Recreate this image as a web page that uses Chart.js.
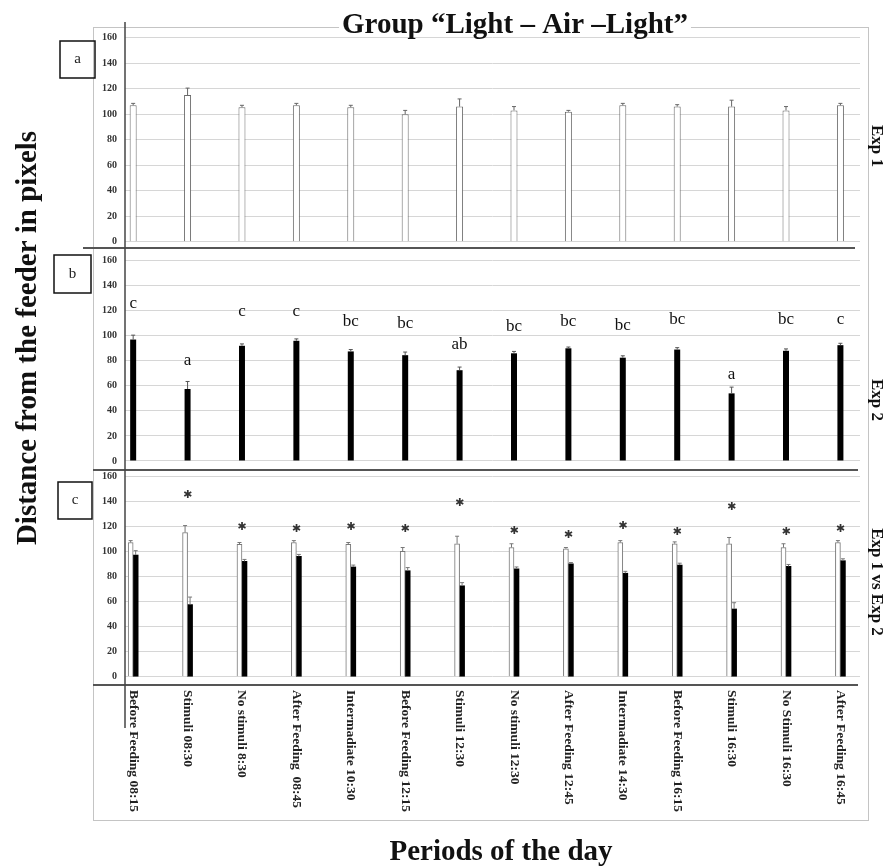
<!DOCTYPE html>
<html>
<head>
<meta charset="utf-8">
<script src="https://cdn.jsdelivr.net/npm/chart.js@4.4.1/dist/chart.umd.min.js"></script>
<style>
  html, body { margin: 0; padding: 0; background: #fff; }
  #wrap { width: 889px; height: 866px; }
</style>
</head>
<body>
<div id="wrap"><canvas id="chart" width="889" height="866"></canvas></div>
<script>
// Periodes de la journee (axe x)
const periods = [
  'Before Feeding 08:15', 'Stimuli 08:30', 'No stimuli 8:30', 'After Feeding  08:45',
  'Intermadiate 10:30', 'Before Feeding 12:15', 'Stimuli 12:30', 'No stimuli 12:30',
  'After Feeding 12:45', 'Intermadiate 14:30', 'Before Feeding 16:15', 'Stimuli 16:30',
  'No Stimuli 16:30', 'After Feeding 16:45'
];
// Exp 1 (barres blanches) et Exp 2 (barres noires), avec erreurs
const exp1 = [107, 115, 105.5, 107, 105.5, 100, 106, 103, 102, 107, 106, 106, 103, 107];
const exp1Err = [1.5, 5.5, 1.5, 1.5, 1.5, 3, 6, 3, 1, 1.5, 1.5, 5, 3, 1.5];
const exp2 = [97, 57.5, 92, 96, 87.5, 84.5, 72.5, 86, 90, 82.5, 89, 54, 88, 92.5];
const exp2Err = [3.5, 6, 1.5, 1.5, 1.5, 2.5, 2.5, 1.5, 1, 1.5, 1.5, 5, 1.5, 1.5];
// Lettres de significativite (panneau b) et leur hauteur
const letters = ['c', 'a', 'c', 'c', 'bc', 'bc', 'ab', 'bc', 'bc', 'bc', 'bc', 'a', 'bc', 'c'];
const letterLevel = [126, 80, 119, 119, 111, 110, 93, 107, 111, 108, 113, 69, 113, 113];
// Marques Exp 1 vs Exp 2 (panneau c)
const sigLevel = [null, 145, 119, 118, 119, 118, 138, 116, 113, 120, 115, 135, 115, 118];
// Graduations de l'axe y
const yTicks = [0, 20, 40, 60, 80, 100, 120, 140, 160];

const SERIF = '"Liberation Serif", "Times New Roman", serif';

const pts = arr => arr.map((v, i) => ({ x: i, y: v }));

// Axe y commun a chaque panneau
function panelAxis(min, max, weight, order) {
  return {
    type: 'linear',
    position: 'left',
    stack: 'panels',
    stackWeight: weight,
    weight: order,
    min: min,
    max: max,
    afterBuildTicks: s => { s.ticks = yTicks.map(v => ({ value: v })); },
    afterFit: s => { s.width = 32; },
    grid: { color: '#d6d6d6', drawTicks: false, lineWidth: 1 },
    border: { display: false },
    ticks: {
      autoSkip: false,
      font: { family: SERIF, size: 10, weight: 'bold' }, color: '#333', padding: 8
    }
  };
}

// Barres d'erreur
const errorBars = {
  id: 'errorBars',
  afterDatasetsDraw(chart) {
    const ctx = chart.ctx;
    chart.data.datasets.forEach((ds, di) => {
      const meta = chart.getDatasetMeta(di);
      const ys = chart.scales[ds.yAxisID];
      ctx.save();
      ctx.strokeStyle = ds.errColor;
      ctx.lineWidth = 1;
      meta.data.forEach((el, i) => {
        const top = ys.getPixelForValue(ds.values[i] + ds.errors[i]);
        ctx.beginPath();
        ctx.moveTo(el.x, el.y);
        ctx.lineTo(el.x, top);
        ctx.moveTo(el.x - 2, top);
        ctx.lineTo(el.x + 2, top);
        ctx.stroke();
      });
      ctx.restore();
    });
  }
};

// Textes, cadres et lignes de separation
const decorations = {
  id: 'decorations',
  beforeDraw(chart) {
    const ctx = chart.ctx;
    ctx.save();
    ctx.fillStyle = '#fff';
    ctx.fillRect(0, 0, chart.width, chart.height);
    ctx.strokeStyle = '#c4c4c4';
    ctx.lineWidth = 1;
    ctx.strokeRect(93.5, 27.5, 775, 793);
    ctx.restore();
  },
  afterDraw(chart) {
    const ctx = chart.ctx;
    const x = chart.scales.x;
    const yA = chart.scales.yA, yB = chart.scales.yB, yC = chart.scales.yC;
    ctx.save();

    // separateurs des panneaux
    ctx.strokeStyle = '#555';
    ctx.lineWidth = 2;
    [[yA.bottom, 83, 855], [yB.bottom, 93, 858], [yC.bottom, 93, 858]].forEach(([y, x0, x1]) => {
      ctx.beginPath(); ctx.moveTo(x0, y); ctx.lineTo(x1, y); ctx.stroke();
    });
    // axe vertical
    ctx.lineWidth = 1.5;
    ctx.strokeStyle = '#444';
    ctx.beginPath(); ctx.moveTo(125, 22); ctx.lineTo(125, 728); ctx.stroke();

    // lettres du panneau b
    ctx.fillStyle = '#111';
    ctx.font = '17px ' + SERIF;
    ctx.textAlign = 'center';
    ctx.textBaseline = 'middle';
    letters.forEach((t, i) => {
      ctx.fillText(t, x.getPixelForValue(i), yB.getPixelForValue(letterLevel[i]));
    });

    // marques du panneau c
    ctx.font = '11px "DejaVu Sans"';
    ctx.fillStyle = '#333';
    sigLevel.forEach((v, i) => {
      if (v === null) return;
      ctx.fillText('\u2731', x.getPixelForValue(i), yC.getPixelForValue(v));
    });

    // etiquettes de categories (verticales)
    ctx.font = 'bold 13.5px ' + SERIF;
    ctx.fillStyle = '#222';
    ctx.textAlign = 'left';
    periods.forEach((p, i) => {
      ctx.save();
      ctx.translate(x.getPixelForValue(i), 690);
      ctx.rotate(Math.PI / 2);
      ctx.fillText(p, 0, 0);
      ctx.restore();
    });

    // boites a, b, c
    ctx.lineWidth = 1.5;
    ctx.strokeStyle = '#111';
    ctx.font = '15px ' + SERIF;
    ctx.textAlign = 'center';
    [['a', 60, 41, 35, 37], ['b', 54, 255, 37, 38], ['c', 58, 482, 34, 37]].forEach(([t, bx, by, bw, bh]) => {
      ctx.strokeRect(bx, by, bw, bh);
      ctx.fillText(t, bx + bw / 2, by + bh / 2);
    });

    // titre
    ctx.font = 'bold 29px ' + SERIF;
    const title = 'Group \u201cLight \u2013 Air \u2013Light\u201d';
    const tw = ctx.measureText(title).width;
    ctx.fillStyle = '#fff';
    ctx.fillRect(515 - tw / 2 - 3, 8, tw + 6, 28);
    ctx.fillStyle = '#111';
    ctx.textBaseline = 'alphabetic';
    ctx.fillText(title, 515, 33);

    // titre axe x
    ctx.fillText('Periods of the day', 501, 860);

    // titre axe y
    ctx.save();
    ctx.translate(36, 338);
    ctx.rotate(-Math.PI / 2);
    ctx.fillText('Distance from the feeder in pixels', 0, 0);
    ctx.restore();

    // etiquettes a droite
    ctx.font = 'bold 17px ' + SERIF;
    ctx.textBaseline = 'middle';
    [['Exp 1', 146], ['Exp 2', 400], ['Exp 1 vs Exp 2', 582]].forEach(([t, y]) => {
      ctx.save();
      ctx.translate(876, y);
      ctx.rotate(Math.PI / 2);
      ctx.fillText(t, 0, 0);
      ctx.restore();
    });
    ctx.restore();
  }
};

const ctx1 = document.getElementById('chart').getContext('2d');
const distanceChart = new Chart(ctx1, {
  type: 'bar',
  data: {
    datasets: [
      {
        label: 'Exp 1', yAxisID: 'yA', data: pts(exp1), values: exp1, errors: exp1Err,
        grouped: false, maxBarThickness: 7,
        backgroundColor: '#fff', borderColor: '#6a6a6a', borderWidth: 1, errColor: '#666'
      },
      {
        label: 'Exp 2', yAxisID: 'yB', data: pts(exp2), values: exp2, errors: exp2Err,
        grouped: false, maxBarThickness: 6,
        backgroundColor: '#000', borderWidth: 0, errColor: '#555'
      },
      {
        label: 'Exp 1 (c)', yAxisID: 'yC', data: pts(exp1), values: exp1, errors: exp1Err,
        barThickness: 5,
        backgroundColor: '#fff', borderColor: '#777', borderWidth: 1, errColor: '#777'
      },
      {
        label: 'Exp 2 (c)', yAxisID: 'yC', data: pts(exp2), values: exp2, errors: exp2Err,
        barThickness: 5,
        backgroundColor: '#000', borderWidth: 0, errColor: '#777'
      }
    ]
  },
  options: {
    responsive: false,
    animation: false,
    layout: { padding: { left: 93, top: 27, right: 29, bottom: 181 } },
    plugins: { legend: { display: false }, tooltip: { enabled: false } },
    scales: {
      x: { type: 'linear', min: -0.15, max: 13.36, offset: false, display: false },
      yA: panelAxis(-4.9, 168.4, 221, 3),
      yB: panelAxis(-7.2, 170.1, 222, 2),
      yC: panelAxis(-6.6, 164.8, 215, 1)
    }
  },
  plugins: [errorBars, decorations]
});
</script>
</body>
</html>
